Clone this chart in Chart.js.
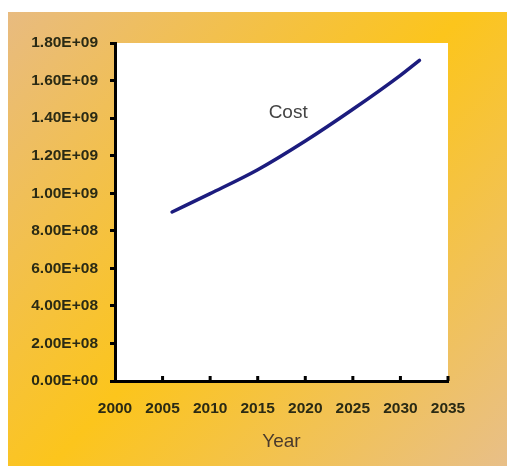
<!DOCTYPE html>
<html>
<head>
<meta charset="utf-8">
<script src="https://cdn.jsdelivr.net/npm/chart.js@4/dist/chart.umd.min.js"></script>
<style>
  html, body { margin: 0; padding: 0; background: #fff; }
  canvas { display: block; }
</style>
</head>
<body>
<canvas id="grafico" width="507" height="466"></canvas>
<script>
// Dados
const anos = [2006, 2010, 2015, 2020, 2025, 2030, 2032];
const custo = [0.90e9, 0.998e9, 1.125e9, 1.278e9, 1.447e9, 1.628e9, 1.708e9];
const ticksX = [2000, 2005, 2010, 2015, 2020, 2025, 2030, 2035];
const rotulosY = ['0.00E+00', '2.00E+08', '4.00E+08', '6.00E+08', '8.00E+08',
                  '1.00E+09', '1.20E+09', '1.40E+09', '1.60E+09', '1.80E+09'];

// fundo em degradê + área branca do gráfico
const fundo = {
    id: 'fundo',
    beforeDraw(chart) {
        const ctx = chart.ctx;
        const a = chart.chartArea;
        ctx.save();
        ctx.fillStyle = '#fff';
        ctx.fillRect(0, 0, chart.width, chart.height);
        const g = ctx.createLinearGradient(8, 12, chart.width, chart.height);
        g.addColorStop(0, '#e8bb80');
        g.addColorStop(0.5, '#fcc51c');
        g.addColorStop(1, '#e8bf88');
        ctx.fillStyle = g;
        ctx.fillRect(8, 12, chart.width - 8, chart.height - 12);
        ctx.fillStyle = '#fff';
        ctx.fillRect(a.left, a.top, a.right - a.left, a.bottom - a.top);
        ctx.restore();
    }
};

// marcas do eixo X para dentro + rótulo "Cost"
const extras = {
    id: 'extras',
    afterDraw(chart) {
        const ctx = chart.ctx;
        const x = chart.scales.x;
        const y = chart.scales.y;
        ctx.save();
        ctx.strokeStyle = '#000';
        ctx.lineWidth = 3;
        ticksX.slice(1).forEach(v => {
            const px = x.getPixelForValue(v);
            ctx.beginPath();
            ctx.moveTo(px, chart.chartArea.bottom);
            ctx.lineTo(px, chart.chartArea.bottom - 5);
            ctx.stroke();
        });
        ctx.fillStyle = '#444';
        ctx.font = '19px "Liberation Sans", Arial, sans-serif';
        ctx.textAlign = 'center';
        ctx.textBaseline = 'middle';
        ctx.fillText('Cost', x.getPixelForValue(2018.2), y.getPixelForValue(1.43e9));
        ctx.restore();
    }
};

const fonteEixo = { family: '"Liberation Sans", Arial, sans-serif', size: 15.5, weight: 'bold' };

new Chart(document.getElementById('grafico'), {
    type: 'line',
    data: {
        datasets: [{
            label: 'Cost',
            data: anos.map((a, i) => ({ x: a, y: custo[i] })),
            borderColor: '#1c1c7e',
            borderWidth: 3.5,
            borderCapStyle: 'round',
            pointRadius: 0,
            cubicInterpolationMode: 'monotone',
            fill: false
        }]
    },
    options: {
        responsive: false,
        animation: false,
        layout: { padding: { left: 0, top: 43, right: 59, bottom: 0 } },
        plugins: { legend: { display: false }, tooltip: { enabled: false } },
        scales: {
            x: {
                type: 'linear',
                min: 2000,
                max: 2035,
                afterBuildTicks: s => { s.ticks = ticksX.map(v => ({ value: v })); },
                afterFit: s => { s.height = 85; },
                grid: { drawOnChartArea: false, drawTicks: false },
                border: { color: '#000', width: 3 },
                ticks: { color: '#2a2a14', font: fonteEixo, padding: 18, maxRotation: 0, autoSkip: false,
                         callback: v => String(v) },
                title: { display: true, text: 'Year', color: '#4a3a2c',
                         font: { family: '"Liberation Sans", Arial, sans-serif', size: 19 },
                         padding: { top: 0, bottom: 13 } }
            },
            y: {
                min: 0,
                max: 1.8e9,
                afterBuildTicks: s => { s.ticks = rotulosY.map((t, i) => ({ value: i * 2e8 })); },
                afterFit: s => { s.width = 115; },
                grid: { drawOnChartArea: false, drawTicks: true, tickLength: 5, tickColor: '#000', tickWidth: 3 },
                border: { color: '#000', width: 3 },
                ticks: { color: '#2a2a14', font: fonteEixo, padding: 12, autoSkip: false,
                         callback: (v, i) => rotulosY[i] }
            }
        }
    },
    plugins: [fundo, extras]
});
</script>
</body>
</html>
